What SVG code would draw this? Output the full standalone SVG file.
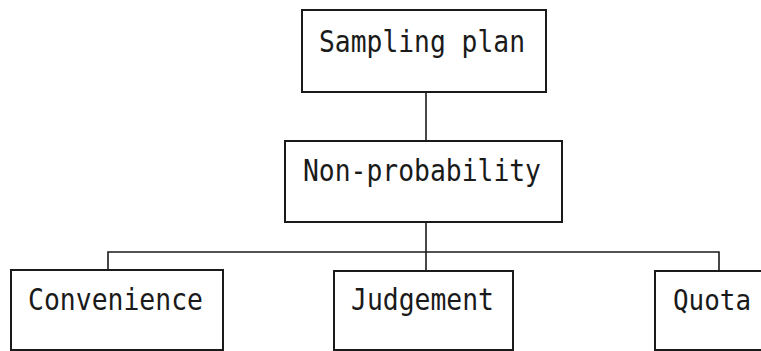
<svg xmlns="http://www.w3.org/2000/svg" width="761" height="351" viewBox="0 0 761 351">
  <style>
    .box { fill: #ffffff; stroke: #1a1a1a; stroke-width: 2; }
    .lbl { font-family: "DejaVu Sans Mono", "Liberation Mono", monospace; font-size: 30px; fill: #1a1a1a; }
    .wire { fill: none; stroke: #1a1a1a; stroke-width: 1.6; }
  </style>
  <rect width="761" height="351" fill="#ffffff"/>

  <g id="connectors">
    <line class="wire" x1="426" y1="92" x2="426" y2="141"/>
    <line class="wire" x1="426" y1="222" x2="426" y2="271"/>
    <polyline class="wire" points="108,270 108,252 719,252 719,271"/>
  </g>

  <g id="sampling-plan">
    <rect class="box" x="302" y="10" width="244" height="82"/>
    <text class="lbl" x="319" y="52" textLength="206" lengthAdjust="spacingAndGlyphs">Sampling plan</text>
  </g>

  <g id="non-probability">
    <rect class="box" x="285" y="141" width="277" height="81"/>
    <text class="lbl" x="303" y="181" textLength="238" lengthAdjust="spacingAndGlyphs">Non-probability</text>
  </g>

  <g id="convenience">
    <rect class="box" x="11" y="270" width="212" height="80"/>
    <text class="lbl" x="28" y="310" textLength="175" lengthAdjust="spacingAndGlyphs">Convenience</text>
  </g>

  <g id="judgement">
    <rect class="box" x="334" y="271" width="179" height="79"/>
    <text class="lbl" x="351" y="310" textLength="143" lengthAdjust="spacingAndGlyphs">Judgement</text>
  </g>

  <g id="quota">
    <!-- right side runs past the page edge -->
    <path class="box" d="M 763 271 H 655 V 350 H 763"/>
    <text class="lbl" x="673" y="310" font-size="28.5" textLength="78" lengthAdjust="spacingAndGlyphs" style="font-size:28.5px">Quota</text>
  </g>
</svg>
